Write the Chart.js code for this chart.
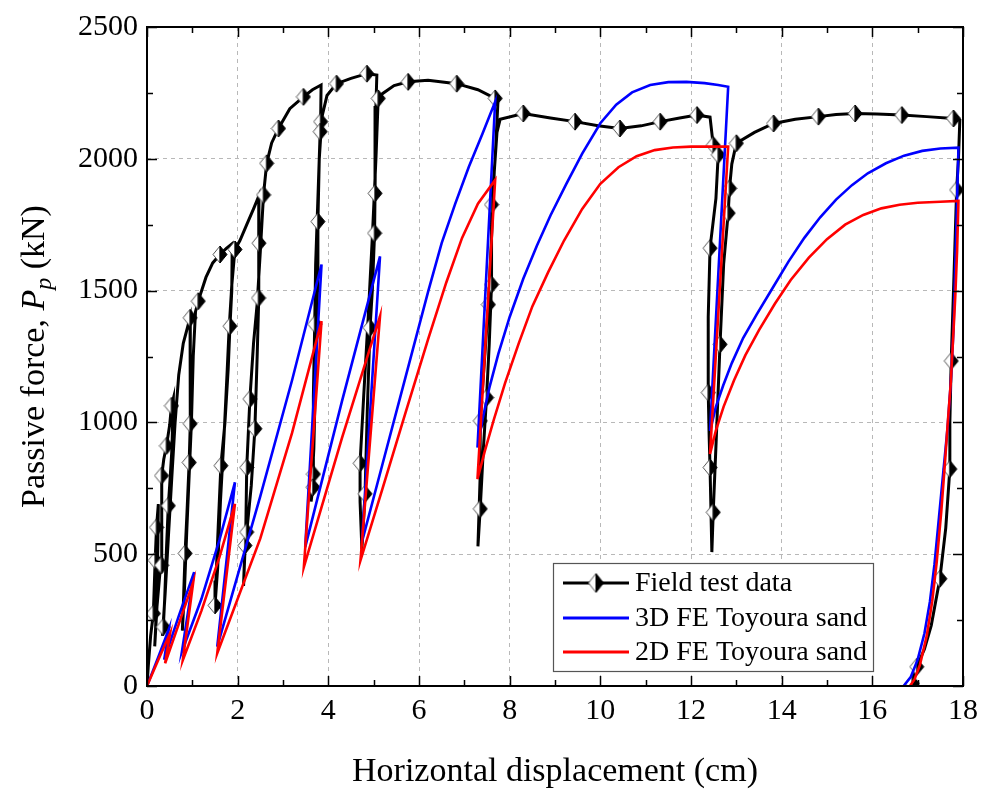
<!DOCTYPE html>
<html>
<head>
<meta charset="utf-8">
<script src="https://cdn.jsdelivr.net/npm/chart.js@4.4.0/dist/chart.umd.min.js"></script>
<style>
  html, body { margin: 0; padding: 0; background: #fff; }
  #wrap { width: 986px; height: 792px; }
</style>
</head>
<body>
<div id="wrap"><canvas id="passiveChart" width="986" height="792"></canvas></div>
<script>
// ---- data (x in cm, y in kN) ----
const fieldX = [0, 0.03, 0.08, 0.14, 0.18, 0.21, 0.25, 0.24, 0.22, 0.19, 0.17, 0.22, 0.28, 0.32, 0.33, 0.32, 0.37, 0.43, 0.5, 0.54, 0.58,
  0.55, 0.5, 0.47, 0.43, 0.39, 0.36, 0.34, 0.4, 0.47, 0.55, 0.62, 0.7, 0.8, 0.95,
  0.96, 0.95, 0.93, 0.88, 0.84, 0.8, 0.78, 0.83, 0.88, 0.93, 0.98, 1.02, 1.07, 1.13, 1.3, 1.45, 1.61, 1.75, 1.88,
  1.87, 1.83, 1.79, 1.72, 1.63, 1.57, 1.52, 1.5, 1.56, 1.62, 1.7, 1.77, 1.81, 1.87, 1.94, 2.05, 2.2, 2.35, 2.47,
  2.47, 2.46, 2.43, 2.38, 2.3, 2.2, 2.16, 2.13, 2.18, 2.2, 2.27, 2.35, 2.43, 2.5, 2.57, 2.64, 2.75, 2.9, 3.15, 3.45, 3.65, 3.84,
  3.83, 3.82, 3.78, 3.72, 3.7, 3.67, 3.67, 3.66, 3.62, 3.68, 3.72, 3.76, 3.77, 3.8, 3.86, 3.97, 4.18, 4.5, 4.85, 5.07,
  5.05, 5.03, 5.02, 4.97, 4.92, 4.86, 4.81, 4.74, 4.7, 4.7, 4.78, 4.88, 4.97, 5.05, 5.1, 5.2, 5.45, 5.76, 6.2, 6.83, 7.3, 7.68, 7.74,
  7.68, 7.6, 7.6, 7.55, 7.49, 7.42, 7.35, 7.3, 7.35, 7.35, 7.45, 7.53, 7.6, 7.66, 7.72, 7.79, 8.3, 8.9, 9.44, 9.95, 10.43, 10.9, 11.32, 11.75, 12.13, 12.42,
  12.49, 12.6, 12.55, 12.42, 12.38, 12.38, 12.4, 12.42, 12.46, 12.49, 12.56, 12.64, 12.72, 12.82, 12.85, 12.9, 13.0, 13.4, 13.82, 14.3, 14.81, 15.2, 15.62, 16.1, 16.65, 17.2, 17.79, 17.93,
  17.9, 17.86, 17.8, 17.74, 17.71, 17.71, 17.62, 17.49, 17.3, 17.15, 16.98, 16.85];
const fieldY = [0, 80, 190, 275, 477, 602, 690, 540, 380, 220, 150, 300, 420, 458, 640, 798, 860, 911, 990, 1063, 1090,
  900, 760, 684, 520, 330, 224, 190, 350, 560, 800, 1000, 1180, 1300, 1397,
  1250, 995, 848, 650, 503, 300, 210, 380, 600, 800, 1000, 1250, 1420, 1460, 1550, 1605, 1637, 1660, 1678,
  1500, 1365, 1200, 1000, 836, 600, 400, 306, 450, 700, 950, 1200, 1350, 1520, 1656, 1690, 1750, 1810, 1860,
  1680, 1472, 1250, 976, 760, 584, 533, 380, 600, 829, 1089, 1300, 1450, 1650, 1863, 1983, 2060, 2115, 2190, 2235, 2262, 2280,
  2141, 2103, 1900, 1600, 1373, 1100, 804, 754, 700, 900, 1200, 1500, 1762, 2000, 2160, 2240, 2285, 2305, 2323, 2318,
  2200, 1869, 1718, 1500, 1359, 1050, 729, 520, 700, 845, 1100, 1400, 1700, 2000, 2229, 2248, 2278, 2292, 2298, 2285, 2262, 2229, 2212,
  2000, 1826, 1523, 1300, 1094, 900, 672, 530, 800, 1006, 1250, 1447, 1700, 1950, 2100, 2150, 2172, 2155, 2141, 2125, 2115, 2125, 2141, 2155, 2166, 2158,
  2052, 2015, 1850, 1661, 1400, 1113, 950, 829, 508, 659, 950, 1296, 1600, 1794, 1888, 1980, 2059, 2100, 2134, 2150, 2160, 2168, 2172, 2170, 2166, 2160, 2153, 2147,
  2000, 1882, 1550, 1233, 1000, 823, 600, 407, 230, 140, 73, 0];

// positions of the half-filled diamond symbols on the field curve
const markX = [0.14, 0.36, 0.18, 0.32, 0.21, 0.47, 0.32, 0.43, 0.54, 0.84, 0.93, 0.95, 0.95, 1.13, 1.61, 1.5, 1.63, 1.83, 1.94,
  2.16, 2.2, 2.2, 2.27, 2.38, 2.46, 2.47, 2.57, 2.64, 2.9, 3.45, 3.83, 3.82, 3.77, 3.7, 3.67, 3.66,
  4.18, 4.85, 5.1, 5.03, 5.02, 4.92, 4.7, 4.81, 5.76, 6.83, 7.68, 7.6, 7.6, 7.53, 7.49, 7.35, 7.35,
  8.3, 9.44, 10.43, 11.32, 12.13, 12.49, 12.6, 13.0, 13.82, 14.81, 15.62, 16.65, 17.79, 17.86,
  12.85, 12.82, 12.42, 12.64, 12.38, 12.42, 12.49, 17.74, 17.71, 17.49, 16.98, 16.88];
const markY = [275, 224, 477, 458, 602, 684, 798, 911, 1063, 503, 848, 995, 1397, 1460, 1637, 306, 836, 1365, 1656,
  533, 584, 829, 1089, 976, 1472, 1680, 1863, 1983, 2115, 2235, 2141, 2103, 1762, 1373, 804, 754,
  2285, 2323, 2229, 1869, 1718, 1359, 845, 729, 2292, 2285, 2229, 1826, 1523, 1447, 1094, 1006, 672,
  2172, 2141, 2115, 2141, 2166, 2052, 2015, 2059, 2134, 2160, 2172, 2166, 2153, 1882,
  1888, 1794, 1661, 1296, 1113, 829, 659, 1233, 823, 407, 73, 10];

const fe3dX = [0, 0.25, 0.48, 0.38, 0.7, 1.04, 0.77, 1.2, 1.6, 1.94, 1.55, 2.5, 3.2, 3.85, 3.49, 4.3, 5.14,
  4.74, 5.2, 5.7, 6.2, 6.5, 6.8, 7.1, 7.4, 7.68,
  7.29, 7.4, 7.55, 7.75, 8.0, 8.3, 8.6, 8.9, 9.25, 9.6, 10.0, 10.35, 10.7, 11.1, 11.5, 11.9, 12.3, 12.6, 12.82,
  12.42, 12.55, 12.71, 12.9, 13.15, 13.45, 13.8, 14.15, 14.5, 14.85, 15.2, 15.55, 15.9, 16.3, 16.7, 17.1, 17.5, 17.9,
  17.87, 17.83, 17.79, 17.73, 17.66, 17.57, 17.47, 17.37, 17.27, 17.15, 17.0, 16.85, 16.69];
const fe3dY = [0, 110, 215, 100, 265, 432, 130, 330, 555, 773, 149, 720, 1160, 1599, 527, 1080, 1630,
  546, 845, 1170, 1495, 1680, 1830, 1970, 2095, 2216,
  905, 1010, 1130, 1260, 1400, 1545, 1670, 1785, 1905, 2020, 2135, 2205, 2252, 2280, 2291, 2292, 2287, 2280, 2273,
  968, 1060, 1140, 1225, 1320, 1410, 1510, 1610, 1700, 1778, 1845, 1900, 1945, 1983, 2012, 2030, 2039, 2042,
  1850, 1600, 1350, 1150, 980, 820, 640, 460, 320, 200, 100, 35, 0];

const fe2dX = [0, 0.25, 0.51, 0.4, 0.7, 1.02, 0.79, 1.2, 1.6, 1.94, 1.55, 2.5, 3.2, 3.85, 3.46, 4.3, 5.14,
  4.71, 5.2, 5.7, 6.2, 6.6, 6.95, 7.3, 7.68,
  7.29, 7.45, 7.65, 7.9, 8.2, 8.5, 8.85, 9.2, 9.6, 10.0, 10.4, 10.8, 11.2, 11.6, 12.0, 12.82,
  12.42, 12.55, 12.72, 12.95, 13.2, 13.5, 13.85, 14.2, 14.6, 15.0, 15.4, 15.8, 16.2, 16.6, 17.0, 17.5, 17.9,
  17.87, 17.83, 17.79, 17.73, 17.66, 17.6, 17.52, 17.42, 17.32, 17.2, 17.05, 16.93, 16.83];
const fe2dY = [0, 100, 200, 86, 235, 394, 98, 285, 490, 691, 124, 560, 960, 1384, 451, 940, 1403,
  477, 752, 1035, 1315, 1530, 1700, 1830, 1920,
  785, 890, 1010, 1150, 1300, 1440, 1570, 1690, 1810, 1905, 1968, 2010, 2033, 2043, 2046, 2046,
  880, 970, 1060, 1160, 1255, 1350, 1450, 1540, 1625, 1695, 1750, 1787, 1812, 1826, 1833, 1837, 1840,
  1650, 1480, 1346, 1150, 990, 842, 660, 470, 320, 190, 80, 25, 0];

const seriesLabels = ['Field test data', '3D FE Toyoura sand', '2D FE Toyoura sand'];
const xTicks = [0, 2, 4, 6, 8, 10, 12, 14, 16, 18];
const yTicks = [0, 500, 1000, 1500, 2000, 2500];

const SERIF = '"Liberation Serif", "Times New Roman", serif';

function toPoints(xs, ys) {
  return xs.map((x, i) => ({ x: x, y: ys[i] }));
}

// half white / half black diamond, like the Origin symbol
function halfDiamond(w, h) {
  const c = document.createElement('canvas');
  c.width = w + 2; c.height = h + 2;
  const g = c.getContext('2d');
  const cx = c.width / 2, cy = c.height / 2;
  g.beginPath();
  g.moveTo(cx, cy - h / 2); g.lineTo(cx - w / 2, cy); g.lineTo(cx, cy + h / 2); g.closePath();
  g.fillStyle = '#fff'; g.fill();
  g.strokeStyle = '#555'; g.lineWidth = 1; g.stroke();
  g.beginPath();
  g.moveTo(cx, cy - h / 2); g.lineTo(cx + w / 2, cy); g.lineTo(cx, cy + h / 2); g.closePath();
  g.fillStyle = '#000'; g.fill();
  g.strokeStyle = '#000'; g.stroke();
  return c;
}
const diamond = halfDiamond(14, 17);
const legendDiamond = halfDiamond(15, 19);

// frame, inward ticks, axis titles and the boxed legend
const decorPlugin = {
  id: 'decor',
  afterDraw(chart) {
    const ctx = chart.ctx;
    const a = chart.chartArea;
    const xs = chart.scales.x, ys = chart.scales.y;
    ctx.save();
    ctx.strokeStyle = '#000';

    // inward ticks on all four sides
    ctx.lineWidth = 1.5;
    ctx.beginPath();
    for (let v = 0; v <= 18; v += 1) {
      const px = Math.round(xs.getPixelForValue(v)) + 0.5;
      const len = v % 2 === 0 ? 10 : 6;
      ctx.moveTo(px, a.bottom); ctx.lineTo(px, a.bottom - len);
      ctx.moveTo(px, a.top); ctx.lineTo(px, a.top + len);
    }
    for (let v = 0; v <= 2500; v += 250) {
      const py = Math.round(ys.getPixelForValue(v)) + 0.5;
      const len = v % 500 === 0 ? 10 : 6;
      ctx.moveTo(a.left, py); ctx.lineTo(a.left + len, py);
      ctx.moveTo(a.right, py); ctx.lineTo(a.right - len, py);
    }
    ctx.stroke();

    // frame
    ctx.lineWidth = 2;
    ctx.strokeRect(a.left, a.top, a.right - a.left, a.bottom - a.top);

    // x title
    ctx.fillStyle = '#000';
    ctx.font = '34px ' + SERIF;
    ctx.textAlign = 'center';
    ctx.textBaseline = 'alphabetic';
    ctx.fillText('Horizontal displacement (cm)', (a.left + a.right) / 2, 781);

    // y title with italic P and subscript p
    const parts = [
      { t: 'Passive force, ', f: '34px ' + SERIF, dy: 0 },
      { t: 'P', f: 'italic 34px ' + SERIF, dy: 0 },
      { t: 'p', f: 'italic 24px ' + SERIF, dy: 7 },
      { t: ' (kN)', f: '34px ' + SERIF, dy: 0 }
    ];
    let total = 0;
    parts.forEach(p => { ctx.font = p.f; p.w = ctx.measureText(p.t).width; total += p.w; });
    ctx.translate(44, (a.top + a.bottom) / 2);
    ctx.rotate(-Math.PI / 2);
    ctx.textAlign = 'left';
    let cur = -total / 2;
    parts.forEach(p => { ctx.font = p.f; ctx.fillText(p.t, cur, p.dy); cur += p.w; });
    ctx.setTransform(1, 0, 0, 1, 0, 0);

    // legend box
    const bx = 553, by = 563, bw = 320, bh = 108;
    ctx.fillStyle = '#fff';
    ctx.fillRect(bx, by, bw, bh);
    ctx.strokeStyle = '#555';
    ctx.lineWidth = 1.2;
    ctx.strokeRect(bx + 0.5, by + 0.5, bw, bh);
    const colors = ['#000', '#0000ff', '#ff0000'];
    const rows = [583, 618, 652];
    ctx.font = '28px ' + SERIF;
    ctx.textBaseline = 'middle';
    ctx.textAlign = 'left';
    seriesLabels.forEach((lab, i) => {
      ctx.strokeStyle = colors[i];
      ctx.lineWidth = 3;
      ctx.beginPath();
      ctx.moveTo(563, rows[i]); ctx.lineTo(629, rows[i]);
      ctx.stroke();
      if (i === 0) {
        ctx.drawImage(legendDiamond, 596 - legendDiamond.width / 2, rows[i] - legendDiamond.height / 2);
      }
      ctx.fillStyle = '#000';
      ctx.fillText(lab, 635, rows[i] + 1);
    });
    ctx.restore();
  }
};

new Chart(document.getElementById('passiveChart'), {
  type: 'scatter',
  data: {
    datasets: [
      {
        label: seriesLabels[2],
        data: toPoints(fe2dX, fe2dY),
        showLine: true,
        borderColor: '#ff0000',
        borderWidth: 2.6,
        pointRadius: 0,
        tension: 0,
        order: 0
      },
      {
        label: seriesLabels[1],
        data: toPoints(fe3dX, fe3dY),
        showLine: true,
        borderColor: '#0000ff',
        borderWidth: 2.6,
        pointRadius: 0,
        tension: 0,
        order: 1
      },
      {
        label: 'markers',
        data: toPoints(markX, markY),
        showLine: false,
        pointStyle: diamond,
        pointRadius: 8,
        order: 2
      },
      {
        label: seriesLabels[0],
        data: toPoints(fieldX, fieldY),
        showLine: true,
        borderColor: '#000',
        borderWidth: 3,
        pointRadius: 0,
        tension: 0,
        order: 3
      }
    ]
  },
  options: {
    responsive: false,
    animation: false,
    layout: { padding: { left: 0, right: 23, top: 25, bottom: 0 } },
    plugins: {
      legend: { display: false },
      tooltip: { enabled: false }
    },
    scales: {
      x: {
        type: 'linear',
        min: 0, max: 18,
        afterBuildTicks: (scale) => { scale.ticks = xTicks.map(v => ({ value: v })); },
        afterFit: (scale) => { scale.height = 106; },
        grid: { color: '#b8b8b8', lineWidth: 1, drawTicks: false },
        border: { display: false, dash: [4, 4] },
        ticks: { color: '#000', padding: 7, font: { family: SERIF, size: 30 }, callback: (v) => String(v) }
      },
      y: {
        type: 'linear',
        min: 0, max: 2500,
        afterBuildTicks: (scale) => { scale.ticks = yTicks.map(v => ({ value: v })); },
        afterFit: (scale) => { scale.width = 147; },
        grid: { color: '#b8b8b8', lineWidth: 1, drawTicks: false },
        border: { display: false, dash: [4, 4] },
        ticks: { color: '#000', padding: 9, font: { family: SERIF, size: 30 }, callback: (v) => String(v) }
      }
    }
  },
  plugins: [decorPlugin]
});
</script>
</body>
</html>
